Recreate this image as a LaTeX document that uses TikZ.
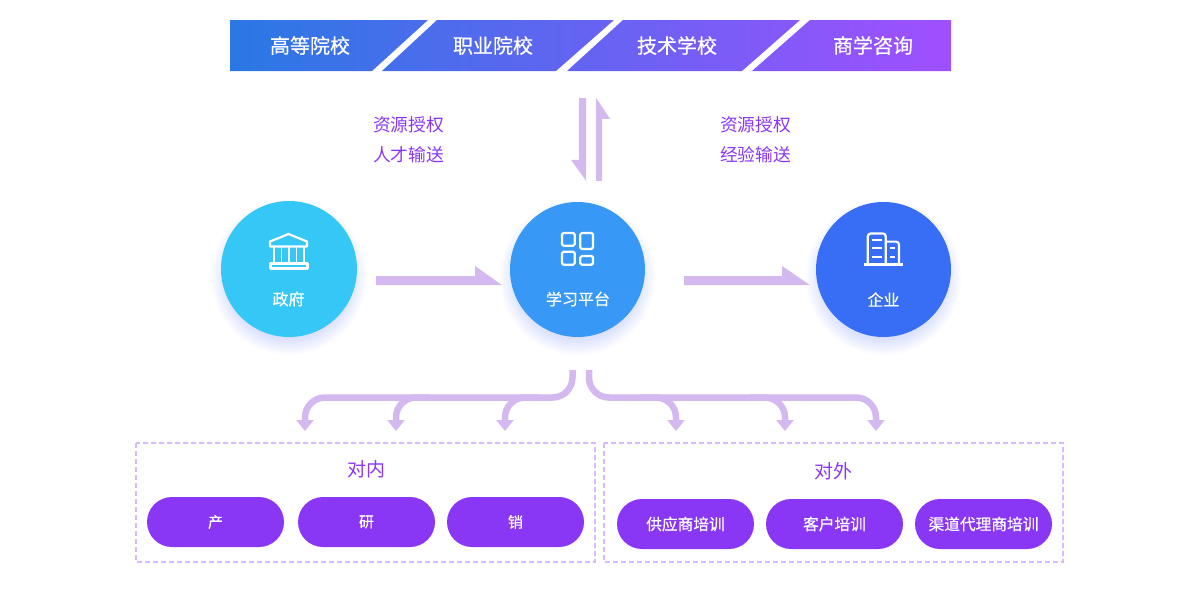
\documentclass[tikz,border=0pt]{standalone}
\usepackage{fontspec}
\setmainfont{Noto Sans CJK SC}
\newfontfamily\medfont{Noto Sans CJK SC}[FakeBold=0.5]
\usepackage{tikz}
\usetikzlibrary{arrows.meta,positioning,calc}
\definecolor{barblue}{RGB}{42,120,228}
\definecolor{barviolet}{RGB}{160,79,255}
\definecolor{flowlilac}{RGB}{211,185,240}
\definecolor{dashlilac}{RGB}{216,184,255}
\definecolor{textviolet}{RGB}{138,55,245}
\definecolor{govcyan}{RGB}{53,200,247}
\definecolor{hubblue}{RGB}{55,152,245}
\definecolor{firmblue}{RGB}{55,110,245}
\definecolor{glowblue}{RGB}{70,100,245}
\tikzset{
  px/.style={font=\fontsize{#1}{#1}\selectfont},
  medpx/.style={font=\medfont\fontsize{#1}{#1}\selectfont},
  barlabel/.style={medpx=20,text=white},
  sidelabel/.style={px=17.75,text=textviolet,align=center},
  disclabel/.style={medpx=16,text=white},
  disc/.style={circle,minimum size=135pt,inner sep=0pt,text=white},
  icon/.style={white,line width=2.2pt,line join=round},
  blockflow/.style={fill=flowlilac,draw=none},
  branch/.style={flowlilac,line width=6.5pt,rounded corners=20pt,-{Triangle[length=11pt,width=17pt]}},
  groupbox/.style={draw=dashlilac,line width=2pt,dash pattern=on 5pt off 3pt},
  pill/.style={fill=textviolet,rounded corners=25pt,minimum width=137pt,minimum height=50pt,inner sep=0pt,text=white,medpx=#1},
  pill/.default=15.7,
}
\begin{document}
\begin{tikzpicture}[x=1pt,y=-1pt]
    \useasboundingbox (0,0) rectangle (1180,590);
    % top banner
    \shade[left color=barblue,right color=barviolet]
      (230,20) -- (428,20) -- (372,71) -- (230,71) -- cycle
      (437,20) -- (614,20) -- (556,71) -- (382,71) -- cycle
      (623,20) -- (800,20) -- (742,71) -- (567,71) -- cycle
      (810,20) -- (951,20) -- (951,71) -- (752,71) -- cycle;
    \node[barlabel] (higher) at (310,45.5) {高等院校};
    \node[barlabel] (voc) at (493,45.5) {职业院校};
    \node[barlabel] (tech) at (677,45.5) {技术学校};
    \node[barlabel] (consult) at (873,45.5) {商学咨询};
    \coordinate (barfoot) at (590,71);
    \node[sidelabel] (leftnote) at (408.5,139.5) {资源授权\\[12.2pt]人才输送};
    \node[sidelabel] (rightnote) at (755.5,139.5) {资源授权\\[12.2pt]经验输送};
    % soft glow under the discs
    \foreach \cx/\cy in {289/269,577.5/269.5,883.5/269.5} \foreach \r in {60,...,78} {
      \fill[glowblue,opacity=0.01] (\cx,\cy+8) circle (\r);
    }
    % discs
    \node[disc,fill=govcyan,minimum size=136pt] (gov) at (289,269) {};
    \node[disc,fill=hubblue] (hub) at (577.5,269.5) {};
    \node[disc,fill=firmblue] (firm) at (883.5,269.5) {};
    \node[disclabel] (govtext) at (288.5,299) {政府};
    \node[disclabel] (hubtext) at (578,299) {学习平台};
    \node[disclabel] (firmtext) at (883.5,299.5) {企业};
    % bank
    \draw[icon] (270,241.5) -- (288.5,234) -- (307,241.5) -- (307,246.5) -- (270,246.5) -- cycle;
    \foreach \x in {274,281.5,289,296.5,304} \draw[icon,line width=1.9pt] (\x,246.5) -- (\x,263);
    \draw[icon] (270.5,263.5) rectangle (307.5,268.5);
    % tiles
    \draw[icon,rounded corners=1.5pt] (562,233) rectangle (574.7,245.7);
    \draw[icon,rounded corners=1.5pt] (580.3,233) rectangle (593,249);
    \draw[icon,rounded corners=1.5pt] (562,251.7) rectangle (574.7,264.7);
    \draw[icon,rounded corners=1.5pt] (580.3,256) rectangle (593,264.7);
    % towers
    \draw[icon,rounded corners=3pt] (867.8,264) -- (867.8,233.4) -- (885.8,233.4) -- (885.8,264);
    \draw[icon,rounded corners=3pt] (885.8,241.6) -- (899,241.6) -- (899,264);
    \draw[icon] (864.3,264.5) -- (903.3,264.5);
    \foreach \y in {240,248.3,256.7} \draw[icon] (871.7,\y) -- (882.3,\y);
    \foreach \y in {248.3,256.7} \draw[icon] (890,\y) -- (895,\y);
    % block arrows
    \path[blockflow] ($(barfoot)+(-11,27)$) -- ($(barfoot)+(-4,27)$) -- ($(hub.north)+(8.5,-21)$) -- ($(hub.north)+(-6.5,-42)$) -- ($(hub.north)+(1.5,-42)$) -- cycle;
    \path[blockflow] ($(hub.north)+(18.5,-21)$) -- ($(hub.north)+(18.5,-104)$) -- ($(hub.north)+(32.5,-83)$) -- ($(hub.north)+(24.5,-83)$) -- ($(hub.north)+(24.5,-21)$) -- cycle;
    \path[blockflow] ($(gov.east)+(19,7)$) -- ($(gov.east)+(118,7)$) -- ($(gov.east)+(118,-3)$) -- ($(hub.west)+(-8,15.5)$) -- ($(gov.east)+(19,16)$) -- cycle;
    \path[blockflow] ($(hub.east)+(39,6.5)$) -- ($(hub.east)+(137,6.5)$) -- ($(hub.east)+(137,-3.5)$) -- ($(firm.west)+(-6,15.5)$) -- ($(hub.east)+(39,15.5)$) -- cycle;
    % branches
    \coordinate (leftroot) at ($(hub.south)+(-5,33)$);
    \coordinate (rightroot) at ($(hub.south)+(11.5,33)$);
    \coordinate (in1) at (305,431);
    \coordinate (in2) at (396,431);
    \coordinate (in3) at (505,431);
    \coordinate (out1) at (676,431);
    \coordinate (out2) at (785,431);
    \coordinate (out3) at (876,431);
    \draw[branch] (leftroot) |- (400,397.5) -| (in1);
    \draw[branch] (430,397.5) -| (in2);
    \draw[branch] (540,397.5) -| (in3);
    \draw[branch] (rightroot) |- (760,397.5) -| (out3);
    \draw[branch] (640,397.5) -| (out1);
    \draw[branch] (750,397.5) -| (out2);
    % groups
    \draw[groupbox] (136,443) rectangle (595,562);
    \draw[groupbox] (604,443) rectangle (1063,562);
    \node[sidelabel,px=19] (inner) at (366,469) {对内};
    \node[sidelabel,px=19] (outer) at (833,471) {对外};
    \node[pill=15] (prod) at (215.5,522) {产};
    \node[pill=15] (rnd) at (366.5,522) {研};
    \node[pill=15] (sales) at (515.5,522) {销};
    \node[pill] (supply) at (685.5,524) {供应商培训};
    \node[pill] (client) at (834.5,524) {客户培训};
    \node[pill] (agent) at (983.5,524) {渠道代理商培训};
  \end{tikzpicture}
\end{document}
